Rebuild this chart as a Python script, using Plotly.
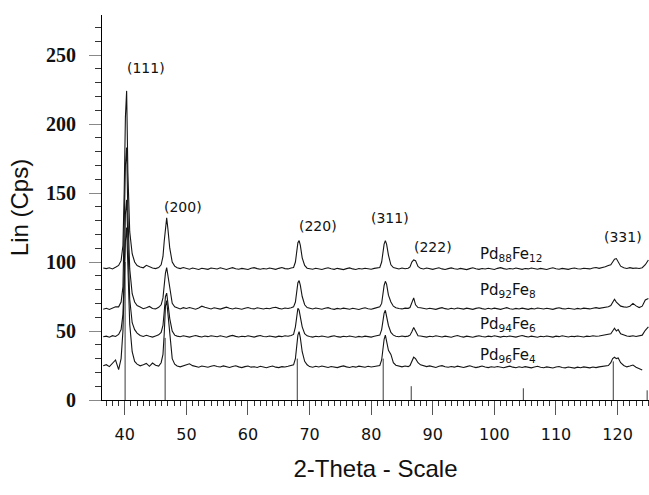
import plotly.graph_objects as go

# ---------------- data ----------------
two_theta = [
    36.5, 37.0, 37.5, 38.0, 38.5,
    39.0, 39.4, 39.7, 39.9, 40.1, 40.3, 40.5, 40.8, 41.2, 41.6, 42.0,
    42.5, 43.0, 43.5, 44.0, 44.5, 45.0, 45.5,
    45.9, 46.2, 46.4, 46.6, 46.8, 47.0, 47.3, 47.7, 48.1,
    48.5, 49.0, 49.5, 50.0, 50.5, 51.0, 51.5, 52.0, 52.5, 53.0, 53.5, 54.0, 54.5, 55.0,
    55.5, 56.0, 56.5, 57.0, 57.5, 58.0, 58.5, 59.0, 59.5, 60.0, 60.5, 61.0, 61.5, 62.0,
    62.5, 63.0, 63.5, 64.0, 64.5, 65.0, 65.5, 66.0, 66.5, 67.0,
    67.4, 67.7, 67.9, 68.1, 68.3, 68.5, 68.8, 69.2, 69.6,
    70.0, 70.5, 71.0, 71.5, 72.0, 72.5, 73.0, 73.5, 74.0, 74.5, 75.0, 75.5, 76.0, 76.5,
    77.0, 77.5, 78.0, 78.5, 79.0, 79.5, 80.0, 80.5, 81.0,
    81.4, 81.7, 81.9, 82.1, 82.3, 82.5, 82.8, 83.2, 83.6,
    84.0, 84.5, 85.0, 85.5, 86.0,
    86.3, 86.6, 86.9, 87.2, 87.6,
    88.0, 88.5, 89.0, 89.5, 90.0, 90.5, 91.0, 91.5, 92.0, 92.5, 93.0, 93.5, 94.0, 94.5,
    95.0, 95.5, 96.0, 96.5, 97.0, 97.5, 98.0, 98.5, 99.0, 99.5, 100.0, 100.5, 101.0, 101.5,
    102.0, 102.5, 103.0, 103.5, 104.0, 104.5, 105.0, 105.5, 106.0, 106.5, 107.0, 107.5,
    108.0, 108.5, 109.0, 109.5, 110.0, 110.5, 111.0, 111.5, 112.0, 112.5, 113.0, 113.5,
    114.0, 114.5, 115.0, 115.5, 116.0, 116.5, 117.0, 117.5, 118.0, 118.5,
    118.9, 119.2, 119.5, 119.8, 120.1, 120.5,
    121.0, 121.5, 122.0, 122.5, 123.0, 123.5, 124.0, 124.5, 125.0,
]

pd88fe12 = [
    95.6, 95.2, 95.8, 95.0, 96.2,
    97.5, 101, 112, 150, 205, 224, 165, 122, 106, 100, 97.5,
    96.4, 95.8, 97.6, 96.5, 95.6, 95.2, 96.0,
    98, 104, 115, 127, 132, 124, 110, 100, 97,
    95.8, 95.2, 96.0, 95.4, 94.8, 95.6, 95.0, 94.6, 95.5, 95.1, 94.7, 95.6, 95.2, 94.9,
    95.8, 95.0, 94.6, 95.3, 95.9, 95.1, 94.8, 95.4, 95.0, 94.6, 95.5, 95.9, 95.2, 94.8,
    95.3, 94.9, 95.6, 95.1, 94.7, 95.4, 96.0, 95.2, 95.0, 95.7,
    96, 100, 108, 114, 115.5, 112, 103, 97.5, 95.5,
    95.2, 94.8, 95.5, 95.0, 94.6, 95.3, 95.8, 95.1, 94.7, 95.4, 95.0, 94.5, 95.2, 95.7,
    95.0, 94.6, 95.3, 94.9, 95.5, 95.1, 94.8, 95.4, 95.6,
    96, 100, 107, 113, 115.5, 113, 105, 98, 96,
    95.3, 94.9, 95.6, 95.1, 95.5,
    96.5, 100, 101.5, 101, 96.8,
    95.4, 94.9, 95.6, 95.1, 94.7, 95.3, 95.8, 95.0, 94.6, 95.2,
    95.7, 95.1, 94.8, 95.4, 95.0, 94.5, 95.2, 95.8, 95.1, 94.7,
    95.3, 94.9, 95.5, 95.0, 94.6, 95.4, 95.9, 95.2, 94.8, 95.3,
    94.9, 95.6, 95.1, 94.7, 95.3, 95.0, 95.6, 95.2, 94.8, 95.4,
    95.0, 94.6, 95.3, 95.8, 95.1, 94.8, 95.4, 95.0, 94.7, 95.3,
    95.7, 95.1, 94.9, 95.5, 95.2, 95.0, 95.6, 96.0, 95.4, 95.8,
    96.5, 97.5,
    98, 100, 102, 102.5, 100, 97,
    95.8, 95.3, 95.9, 95.4, 95.7, 95.3, 95.9, 98.0, 101.5,
]

pd92fe8 = [
    65.8, 66.5, 65.6, 66.8, 67.5,
    67.5, 71, 82, 118, 170, 183, 135, 95, 77, 71, 68.5,
    67.4, 66.2, 66.9, 67.8, 66.3, 66.0, 67.2,
    69, 74, 84, 92, 96, 90, 80, 70, 67.5,
    66.6, 66.0, 66.9, 66.3, 67.0, 66.2, 65.8, 66.7, 68.0, 67.2, 66.4, 66.0, 66.8, 66.3,
    65.9, 66.6, 67.3, 66.5, 66.0, 66.7, 66.2, 65.8, 66.5, 67.0, 66.3, 66.0, 66.8, 66.4,
    65.9, 66.5, 66.1, 66.8, 67.2, 66.4, 66.0, 66.7, 66.3, 66.9,
    67.5, 71, 79, 85, 86.5, 83, 75, 69, 67,
    66.4, 66.0, 66.7, 66.2, 65.8, 66.5, 66.9, 66.1, 65.7, 66.4, 66.0, 66.6, 66.2, 65.8,
    66.5, 66.0, 65.6, 66.3, 66.8, 66.1, 65.8, 66.4, 66.9,
    67.5, 70, 77, 83, 86, 84, 76, 71, 68,
    66.8, 66.3, 66.0, 66.6, 66.4,
    67, 70, 74, 69, 67,
    66.8, 66.2, 65.9, 66.5, 66.1, 65.7, 66.4, 66.9, 66.2, 65.8,
    66.5, 66.0, 66.7, 66.3, 65.9, 66.6, 66.1, 65.7, 66.4, 66.8,
    66.2, 65.8, 66.5, 66.0, 66.6, 66.2, 65.7, 66.3, 66.9, 66.1,
    65.8, 66.4, 66.0, 66.6, 66.2, 65.7, 66.4, 66.0, 66.7, 66.3,
    65.9, 66.5, 66.1, 65.7, 66.4, 66.8, 66.2, 65.9, 66.5, 66.1,
    65.8, 66.4, 66.0, 66.6, 66.2, 66.0, 66.5, 66.9, 66.4, 66.8,
    67.2, 67.6,
    68.5, 70.5, 73, 71, 69.5, 68,
    67.5, 67.2, 68.0, 70.0, 68.2, 67.0, 68.0, 72.5, 73.5,
]

pd94fe6 = [
    45.8, 46.3, 45.5, 46.6, 46.0,
    47.5, 51, 62, 90, 135, 145, 110, 73, 56, 51, 48.5,
    46.8, 46.0, 46.9, 46.2, 45.6, 46.4, 47.2,
    49, 54, 64, 75, 77.5, 70, 59, 50, 47,
    46.3, 45.8, 46.5, 46.0, 45.6, 46.2, 46.7, 46.1, 45.7, 46.4, 45.9, 46.6, 46.2, 45.8,
    46.5, 46.0, 45.5, 46.3, 46.8, 46.1, 45.7, 46.2, 45.9, 46.5, 46.0, 45.6, 46.3, 46.7,
    46.0, 45.8, 46.4, 46.1, 45.6, 46.3, 45.9, 46.5, 46.2, 46.8,
    47.5, 53, 62, 66.5, 65, 60, 53, 48, 46.5,
    46.0, 45.6, 46.2, 45.8, 46.4, 45.9, 45.5, 46.1, 46.6, 45.9, 45.6, 46.2, 45.8, 46.4,
    46.0, 45.5, 46.1, 45.7, 46.3, 45.9, 45.6, 46.2, 46.5,
    47, 51, 58, 63, 65, 61, 54, 49, 47,
    46.2, 45.8, 46.4, 45.9, 46.3,
    47, 49.5, 52.5, 50, 46.5,
    46.4, 46.0, 45.6, 46.2, 45.8, 46.5, 46.1, 45.7, 46.3, 45.9,
    45.5, 46.2, 46.7, 46.0, 45.6, 46.3, 45.9, 45.5, 46.1, 46.6,
    46.0, 45.7, 46.3, 45.9, 46.5, 46.1, 45.6, 46.2, 45.8, 46.4,
    46.0, 45.6, 46.2, 46.7, 46.1, 45.7, 46.3, 45.9, 45.5, 46.2,
    45.8, 46.4, 46.0, 45.6, 46.3, 45.9, 46.5, 46.1, 45.7, 46.2,
    45.9, 46.4, 46.0, 45.7, 46.3, 46.0, 46.6, 46.2, 46.4, 46.8,
    46.9, 47.3,
    48, 50, 52, 50, 51, 48,
    47.0, 46.4, 46.1, 46.6, 46.0, 46.3, 47.0, 50.5, 53.0,
]

pd96fe4 = [
    24.8, 25.6, 24.2, 27.0, 29.0,
    22.0, 30, 50, 80, 115, 125, 95, 55, 35, 28, 26,
    24.8, 25.6, 26.5, 24.4, 26.8, 25.2, 24.6,
    27, 33, 48, 68, 72, 62, 45, 30, 26,
    24.6, 24.0, 24.8, 25.5, 26.2, 24.9, 24.3, 23.8, 24.6, 24.1, 23.7, 24.4, 25.0, 24.3,
    23.9, 24.7, 24.2, 23.6, 24.3, 24.8, 24.0, 23.5, 24.2, 24.6, 23.8, 24.1, 23.6, 24.4,
    23.9, 23.4, 24.1, 24.6, 23.8, 23.5, 24.2, 23.9, 24.4, 24.9,
    25.5, 30, 40, 47, 49.5, 45, 35, 28, 25.5,
    24.2, 23.7, 24.4, 23.9, 24.6, 24.1, 23.6, 24.3, 24.0, 23.5, 24.2, 24.7, 24.0, 23.6,
    24.3, 23.8, 24.5, 24.1, 23.7, 24.4, 23.9, 24.3, 24.6,
    25, 29, 38, 44, 47, 43, 36, 33, 27,
    25.2, 24.4, 24.0, 24.6, 24.2,
    25, 27.5, 31, 30, 27,
    25.5, 24.8, 24.2, 24.7, 24.0, 23.6, 24.4, 24.9, 24.1, 23.7,
    24.3, 23.8, 24.5, 24.0, 23.6, 24.2, 24.8, 24.1, 23.5, 24.0,
    24.6, 23.9, 23.5, 24.1, 23.7, 24.3, 23.8, 23.4, 24.0, 24.5,
    23.8, 23.4, 24.1, 23.6, 24.2, 23.7, 23.3, 23.9, 24.4, 23.7,
    23.4, 24.0, 23.6, 23.2, 23.9, 24.3, 23.6, 23.3, 23.9, 23.5,
    23.1, 23.8, 23.4, 24.0, 23.6, 23.3, 23.9, 23.5, 24.0, 24.4,
    24.6, 25.0,
    27, 30, 31, 30, 30.5, 27,
    25.0, 24.0, 24.6, 25.3, 23.8, 23.0, 21.8, None, None,
]

series_names = ["Pd<sub>88</sub>Fe<sub>12</sub>", "Pd<sub>92</sub>Fe<sub>8</sub>",
                "Pd<sub>94</sub>Fe<sub>6</sub>", "Pd<sub>96</sub>Fe<sub>4</sub>"]
series_label_x = [97.4, 97.4, 97.4, 97.4]
series_label_y = [105.8, 79.7, 55.0, 32.6]

# reference stick pattern (Pd)
stick_pos = [40.05, 46.55, 68.0, 81.95, 86.5, 104.7, 119.3, 124.8]
stick_int = [100, 45, 30, 30, 10, 8.5, 28, 7]

# reflection labels
hkl_text = ["(111)", "(200)", "(220)", "(311)", "(222)", "(331)"]
hkl_x = [43.5, 49.5, 71.4, 83.1, 90.1, 120.9]
hkl_y = [240.6, 139.9, 126.0, 131.9, 110.9, 118.1]

y_ticks = [0, 50, 100, 150, 200, 250]
x_ticks = [40, 50, 60, 70, 80, 90, 100, 110, 120]

series = [pd88fe12, pd92fe8, pd94fe6, pd96fe4]
for s in series:
    assert len(s) == len(two_theta), (len(s), len(two_theta))

# ---------------- figure ----------------
fig = go.Figure()

sx, sy = [], []
for p, h in zip(stick_pos, stick_int):
    sx += [p, p, None]
    sy += [0, h, None]
fig.add_trace(go.Scatter(x=sx, y=sy, mode="lines",
                         line=dict(color="#3a3a3a", width=1), hoverinfo="skip",
                         showlegend=False))

for name, s in zip(series_names, series):
    fig.add_trace(go.Scatter(x=two_theta, y=s, mode="lines", name=name,
                             line=dict(color="#151515", width=1.1),
                             connectgaps=False, showlegend=False))

for name, lx, ly in zip(series_names, series_label_x, series_label_y):
    fig.add_annotation(x=lx, y=ly, text=name, showarrow=False, xanchor="left",
                       yanchor="middle",
                       font=dict(family="DejaVu Sans", size=15, color="#111"))

for t, hx, hy in zip(hkl_text, hkl_x, hkl_y):
    fig.add_annotation(x=hx, y=hy, text=t, showarrow=False, xanchor="center",
                       yanchor="middle",
                       font=dict(family="DejaVu Sans", size=14, color="#111"))

fig.update_layout(
    width=649, height=495,
    margin=dict(l=102, r=0, t=15, b=95),
    paper_bgcolor="white", plot_bgcolor="white",
    showlegend=False,
)

fig.update_xaxes(
    range=[36.3, 125.1],
    tickvals=x_ticks, ticktext=[str(v) for v in x_ticks],
    ticks="outside", ticklen=14, tickwidth=1, tickcolor="#555",
    minor=dict(dtick=1, tick0=0, ticks="outside", ticklen=5, tickcolor="#333", tickwidth=1),
    showline=True, linecolor="black", linewidth=1,
    showgrid=False, zeroline=False,
    tickfont=dict(family="DejaVu Sans", size=16, color="#111"),
    ticklabelstandoff=6,
    title=dict(text="2-Theta - Scale", font=dict(family="Liberation Sans", size=24, color="#111"),
               standoff=16),
)

fig.update_yaxes(
    range=[0, 279],
    tickvals=y_ticks, ticktext=[str(v) for v in y_ticks],
    ticks="outside", ticklen=12, tickwidth=1, tickcolor="#888",
    minor=dict(dtick=10, tick0=0, ticks="outside", ticklen=6, tickcolor="#333", tickwidth=1),
    showline=True, linecolor="black", linewidth=1,
    showgrid=False, zeroline=False,
    tickfont=dict(family="Liberation Serif", size=20, color="#111", weight="bold"),
    ticklabelstandoff=9,
    title=dict(text="Lin (Cps)", font=dict(family="Liberation Sans", size=24, color="#111"),
               standoff=10),
)

fig.write_html("out.html")
